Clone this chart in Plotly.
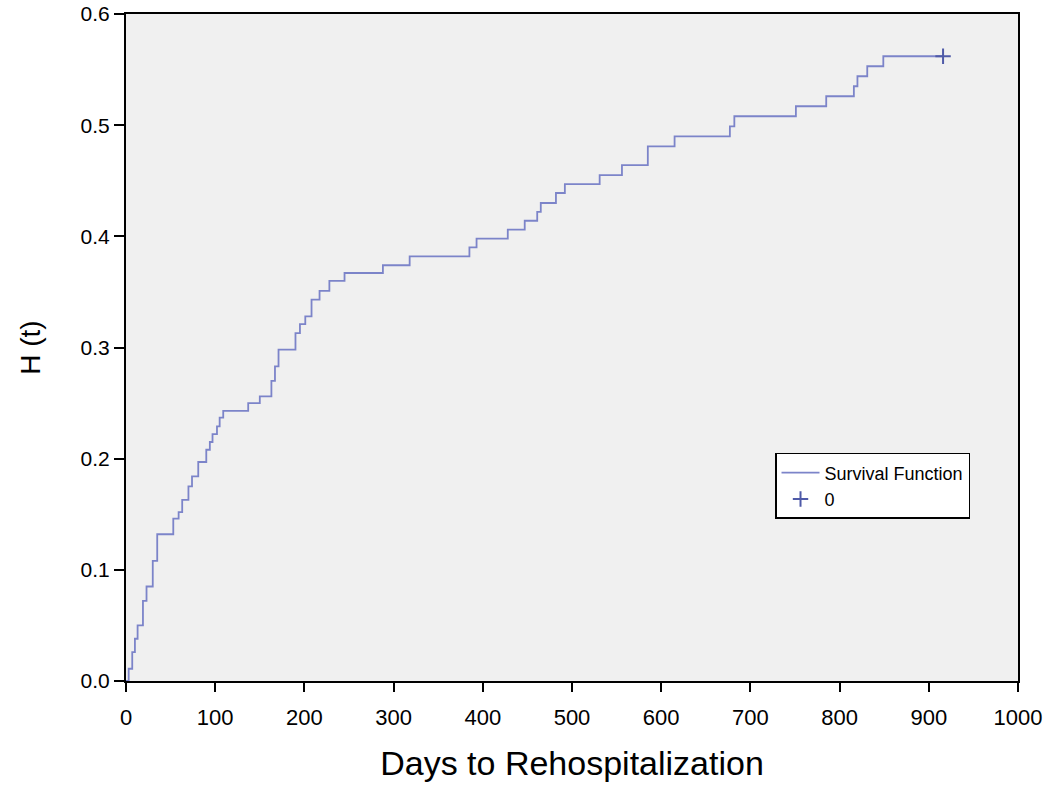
import plotly.graph_objects as go

days = [0, 3, 7, 10, 13, 19, 23, 30, 35, 53, 59, 63, 70, 74, 81, 90, 94, 97, 102, 105,
        109, 137, 150, 163, 167, 171, 190, 195, 201, 208, 217, 228, 245, 288, 318, 385,
        393, 428, 447, 461, 465, 482, 492, 531, 556, 585, 615, 677, 682, 751, 785, 816,
        820, 831, 849, 916]
hazard = [0.0, 0.011, 0.026, 0.038, 0.05, 0.072, 0.085, 0.108, 0.132, 0.146, 0.152, 0.163,
          0.175, 0.184, 0.197, 0.208, 0.215, 0.222, 0.229, 0.237, 0.243, 0.25, 0.256, 0.27,
          0.283, 0.298, 0.313, 0.321, 0.328, 0.343, 0.351, 0.36, 0.367, 0.374, 0.382, 0.39,
          0.398, 0.406, 0.414, 0.422, 0.43, 0.439, 0.447, 0.455, 0.464, 0.481, 0.49, 0.499,
          0.508, 0.517, 0.526, 0.535, 0.544, 0.553, 0.562, 0.562]
censor_days = [916]
censor_hazard = [0.562]

x_ticks = [0, 100, 200, 300, 400, 500, 600, 700, 800, 900, 1000]
y_ticks = [0.0, 0.1, 0.2, 0.3, 0.4, 0.5, 0.6]

FONT = "Liberation Sans, Arial, sans-serif"

fig = go.Figure()
fig.add_trace(go.Scatter(
    x=days, y=hazard, mode="lines", line_shape="hv",
    line=dict(color="#7c84c9", width=1.8), name="Survival Function"))
fig.add_trace(go.Scatter(
    x=censor_days, y=censor_hazard, mode="markers",
    marker=dict(symbol="cross-thin-open", size=11, color="#4f5aa8",
                line=dict(color="#4f5aa8", width=2)),
    name="0"))

fig.update_layout(
    width=1050, height=792,
    paper_bgcolor="white", plot_bgcolor="#f0f0f0",
    margin=dict(l=126, r=32, t=14, b=111, autoexpand=False),
    showlegend=True,
    legend=dict(x=0.7276, y=0.342, xanchor="left", yanchor="top",
                bgcolor="white", bordercolor="black", borderwidth=1.5,
                font=dict(family=FONT, size=18, color="black"),
                tracegroupgap=0, itemwidth=38),
    xaxis=dict(range=[0, 1000], tickvals=x_ticks, ticktext=[str(v) for v in x_ticks],
               automargin=False,
               showgrid=False, zeroline=False, showline=True, linecolor="black", linewidth=2,
               mirror=True, ticks="outside", ticklen=9, tickwidth=1.5, tickcolor="black",
               ticklabelstandoff=7,
               tickfont=dict(family=FONT, size=22, color="black"),
               title=dict(text="Days to Rehospitalization", standoff=22,
                          font=dict(family=FONT, size=34, color="black"))),
    yaxis=dict(range=[0, 0.6], tickvals=y_ticks, ticktext=["%.1f" % v for v in y_ticks],
               automargin=False, ticklabeloverflow="allow",
               showgrid=False, zeroline=False, showline=True, linecolor="black", linewidth=2,
               mirror=True, ticks="outside", ticklen=10, tickwidth=1.5, tickcolor="black",
               tickfont=dict(family=FONT, size=21, color="black"),
               title=dict(text="H (t)", standoff=32,
                          font=dict(family=FONT, size=28, color="black"))),
)

fig.write_html("out.html", config={"displayModeBar": False},
               post_script="document.body.style.margin='0';")
